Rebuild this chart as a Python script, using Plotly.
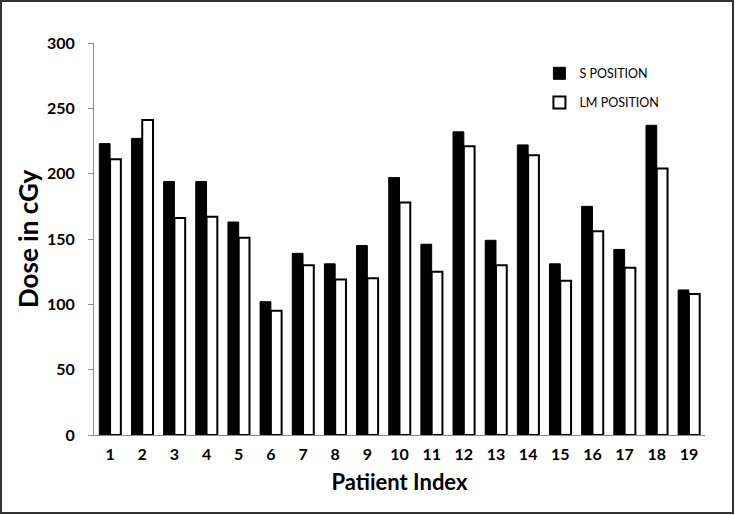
import plotly.graph_objects as go

patients = [str(i) for i in range(1, 20)]
s_position = [223, 227, 194, 194, 163, 102, 139, 131, 145, 197, 146, 232, 149, 222, 131, 175, 142, 237, 111]
lm_position = [211, 241, 166, 167, 151, 95, 130, 119, 120, 178, 125, 221, 130, 214, 118, 156, 128, 204, 108]
y_ticks = [0, 50, 100, 150, 200, 250, 300]

FONT = "Lato"

fig = go.Figure()
fig.add_trace(go.Bar(
    x=patients, y=s_position, name="S POSITION",
    marker=dict(color="black", line=dict(color="black", width=1)),
    legendgroup="a",
))
fig.add_trace(go.Bar(
    x=patients, y=lm_position, name="LM POSITION",
    marker=dict(color="white", line=dict(color="black", width=2)),
    legendgroup="b",
))

fig.update_layout(
    width=735, height=515,
    margin=dict(l=94, r=30, t=43, b=80),
    paper_bgcolor="white", plot_bgcolor="white",
    barmode="group", bargap=0.33, bargroupgap=0,
    font=dict(family=FONT, color="black"),
    showlegend=True,
    legend=dict(
        x=0.729, y=0.96, xanchor="left", yanchor="top",
        bgcolor="rgba(0,0,0,0)", tracegroupgap=10,
        font=dict(family=FONT, size=12.5, color="black"),
        itemwidth=30,
    ),
    xaxis=dict(
        type="category", showline=True, linecolor="#8c8c8c", linewidth=1,
        ticks="", showgrid=False, automargin=False,
        tickfont=dict(family=FONT, size=16, color="black", weight="bold"),
        ticklabelstandoff=5,
        title=dict(text="Patiient Index", font=dict(family=FONT, size=22, color="black", weight="bold"), standoff=12),
    ),
    yaxis=dict(
        range=[0, 300], tickvals=y_ticks, showline=True, linecolor="#8c8c8c", linewidth=1,
        ticks="outside", ticklen=5, tickcolor="#8c8c8c", showgrid=False, zeroline=False,
        automargin=False,
        tickfont=dict(family=FONT, size=16, color="black", weight="bold"),
        ticklabelstandoff=10,
        title=dict(text="Dose in cGy", font=dict(family=FONT, size=26, color="black", weight="bold"), standoff=0),
    ),
    shapes=[dict(
        type="rect", xref="paper", yref="paper",
        x0=(1 - 94) / 611, x1=(733 - 94) / 611,
        y0=(435 - 513) / 392, y1=(435 - 1) / 392,
        line=dict(color="#333333", width=2), fillcolor="rgba(0,0,0,0)", layer="below",
    )],
)

fig.write_html(
    "out.html",
    config={"displayModeBar": False},
    post_script="document.body.style.margin='0';document.body.style.overflow='hidden';",
)
